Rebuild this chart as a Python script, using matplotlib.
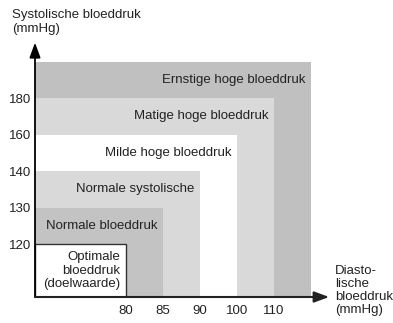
import numpy as np
import matplotlib
matplotlib.use("Agg")
import matplotlib.pyplot as plt
from matplotlib.patches import Rectangle

plt.rcParams['font.family'] = ['Liberation Sans', 'DejaVu Sans']
plt.rcParams['font.size'] = 9.5

# bloeddruk-categorieën (binnenste naar buitenste)
diastolic = [80, 85, 90, 100, 110]
systolic = [120, 130, 140, 160, 180]
categories = [
    "Optimale\nbloeddruk\n(doelwaarde)",
    "Normale bloeddruk",
    "Normale systolische",
    "Milde hoge bloeddruk",
    "Matige hoge bloeddruk",
    "Ernstige hoge bloeddruk",
]
colors = ["white", "#c3c3c3", "#d9d9d9", "white", "#d9d9d9", "#c0c0c0"]

# elke categorie krijgt een gelijke stap op de as
x_start, y_start = 2.46, 1.45
x_edges = x_start + np.arange(len(categories))
y_edges = y_start + np.arange(len(categories))

fig = plt.figure(figsize=(3.93, 3.23), dpi=100)
ax = fig.add_axes([35 / 393, 26 / 323, 8 * 37 / 393, 7 * 36.5 / 323])
ax.set_xlim(0, 8)
ax.set_ylim(0, 7)

for i in reversed(range(len(categories))):
    edge = "#333333" if i == 0 else "none"
    ax.add_patch(Rectangle((0, 0), x_edges[i], y_edges[i], facecolor=colors[i],
                           edgecolor=edge, lw=1.0, zorder=1))
    lower = y_edges[i - 1] if i > 0 else 0
    ax.text(x_edges[i] - 0.15, (lower + y_edges[i]) / 2, categories[i],
            ha="right", va="center", color="#222222", linespacing=1.2, zorder=3)

ax.set_xticks(x_edges[:len(diastolic)], labels=[str(v) for v in diastolic])
ax.set_yticks(y_edges[:len(systolic)], labels=[str(v) for v in systolic])
ax.tick_params(length=0, colors="#222222", labelsize=9.5)
ax.tick_params(axis="x", pad=6)
ax.tick_params(axis="y", pad=3)
for s in ax.spines.values():
    s.set_visible(False)

# assen met pijlpunten
arrow = dict(arrowstyle="-|>,head_length=0.9,head_width=0.33", mutation_scale=10,
             shrinkA=0, shrinkB=0)
ax.annotate("", xy=(0, 6.97), xytext=(0, 0), annotation_clip=False, zorder=4,
            arrowprops=dict(color="black", lw=1.3, **arrow))
ax.annotate("", xy=(7.95, 0), xytext=(0, 0), annotation_clip=False, zorder=4,
            arrowprops=dict(color="#222222", lw=1.5, **arrow))

fig.text(12 / 393, 1 - 9 / 323, "Systolische bloeddruk\n(mmHg)", ha="left", va="top",
         color="#222222", linespacing=1.2)
fig.text(335 / 393, 1 - 265 / 323, "Diasto-\nlische\nbloeddruk\n(mmHg)", ha="left", va="top",
         color="#222222", linespacing=1.1)

fig.savefig("out.png", dpi=100)
